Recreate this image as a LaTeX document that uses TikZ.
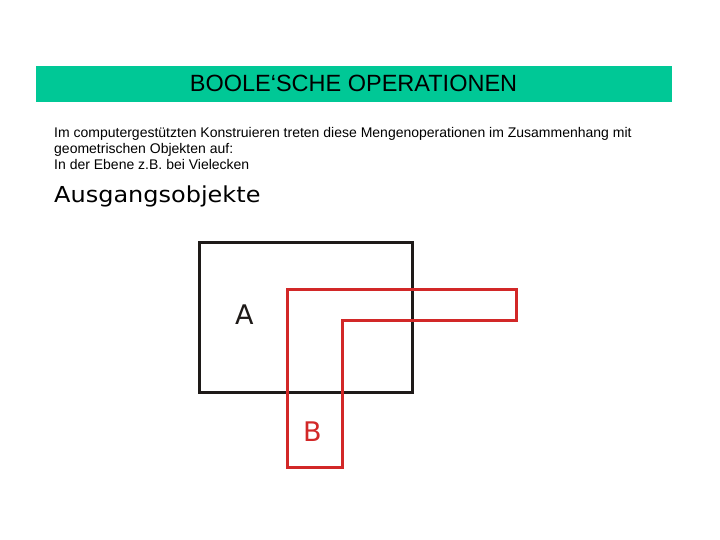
\documentclass[tikz,border=0pt]{standalone}
\usepackage{fontspec}
\setmainfont{Liberation Sans}
\newfontfamily\dejavu{DejaVu Sans}
\definecolor{bargreen}{RGB}{0,200,150}
\definecolor{shapered}{RGB}{210,40,40}
\definecolor{shapeblack}{RGB}{30,26,24}
\tikzset{
  bodytext/.style={anchor=base west, inner sep=0pt, font=\fontsize{14}{16}\selectfont},
  shapeline/.style={line width=3pt, line join=miter},
  lbl/.style={anchor=base, inner sep=0pt, font=\dejavu\fontsize{27}{30}\selectfont}
}
\begin{document}
\begin{tikzpicture}[x=1pt,y=-1pt]
\useasboundingbox (0,0) rectangle (720,540);
\fill[white] (0,0) rectangle (720,540);
% title bar
\fill[bargreen] (36,66) rectangle (672,102);
\node[anchor=base, inner sep=0pt, font=\fontsize{23.5}{26}\selectfont] (title) at (353.5,92) {BOOLE‘SCHE OPERATIONEN};
% body
\node[bodytext] (l1) at (54,137.5) {Im computergestützten Konstruieren treten diese Mengenoperationen im Zusammenhang mit};
\node[bodytext] (l2) at (54,153.5) {geometrischen Objekten auf:};
\node[bodytext] (l3) at (54,169.5) {In der Ebene z.B. bei Vielecken};
\node[anchor=base west, inner sep=0pt, xscale=1.09, font=\dejavu\fontsize{22}{26}\selectfont] (ausg) at (54,202.5) {Ausgangsobjekte};
% shapes
\draw[shapeline, shapeblack] (199.5,242.3) rectangle (412.7,392.7);
\draw[shapeline, shapered] (287.3,289.3) -- (516.7,289.3) -- (516.7,320) -- (342.7,320) -- (342.7,467.7) -- (287.3,467.7) -- cycle;
\node[lbl, shapeblack] (A) at (244.3,324.3) {A};
\node[lbl, shapered] (B) at (312.3,441.7) {B};
\end{tikzpicture}
\end{document}
